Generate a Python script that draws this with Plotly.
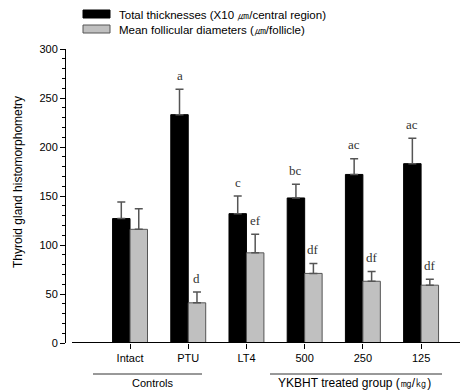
import plotly.graph_objects as go

categories = ["Intact", "PTU", "LT4", "500", "250", "125"]
thick = [127, 233, 132, 148, 172, 183]
thick_err = [17, 26, 18, 14, 16, 26]
foll = [116, 41, 92, 71, 63, 59]
foll_err = [21, 11, 19, 10, 10, 6]
thick_lbl = ["", "a", "c", "bc", "ac", "ac"]
foll_lbl = ["", "d", "ef", "df", "df", "df"]
legend_names = ["Total thicknesses (X10 \u339b/central region)",
                "Mean follicular diameters (\u339b/follicle)"]
group_names = ["Controls", "YKBHT treated group (\u338e/\u338f)"]
y_title = "Thyroid gland histomorphometry"

OFF = 8  # page body margin
W, H = 468 - OFF, 390 - OFF
L, R, T, B = 66 - OFF, 5, 49 - OFF, 47
pw, ph = W - L - R, H - T - B

def px(x):
    return (x - OFF - L) / pw

def py(y):
    return (H - B - (y - OFF)) / ph

xs = list(range(len(categories)))
fig = go.Figure()
fig.add_trace(go.Bar(x=xs, y=thick, width=0.3, offset=-0.3, name=legend_names[0],
                     marker=dict(color="black", line=dict(color="black", width=1)),
                     error_y=dict(type="data", array=thick_err, arrayminus=[0]*6, symmetric=False,
                                  color="#555555", thickness=1.5, width=4),
                     showlegend=False))
fig.add_trace(go.Bar(x=xs, y=foll, width=0.3, offset=0, name=legend_names[1],
                     marker=dict(color="#c0c0c0", line=dict(color="#555555", width=1)),
                     error_y=dict(type="data", array=foll_err, arrayminus=[0]*6, symmetric=False,
                                  color="#555555", thickness=1.5, width=4),
                     showlegend=False))

ann = []
for i in xs:
    if thick_lbl[i]:
        ann.append(dict(x=i - 0.15, y=thick[i] + thick_err[i], text=thick_lbl[i], showarrow=False,
                        yshift=14, font=dict(family="Liberation Serif", size=13, color="#333")))
    if foll_lbl[i]:
        ann.append(dict(x=i + 0.15, y=foll[i] + foll_err[i], text=foll_lbl[i], showarrow=False,
                        yshift=14, font=dict(family="Liberation Serif", size=13, color="#333")))

shapes = []
shapes.append(dict(type="line", xref="paper", yref="paper", x0=px(72), x1=px(463), y0=py(342.5), y1=py(342.5),
                   line=dict(color="black", width=1)))
shapes.append(dict(type="rect", xref="paper", yref="paper", x0=px(83), x1=px(110), y0=py(10), y1=py(18),
                   fillcolor="black", line=dict(color="black", width=1)))
shapes.append(dict(type="rect", xref="paper", yref="paper", x0=px(83), x1=px(110), y0=py(25), y1=py(33),
                   fillcolor="#c0c0c0", line=dict(color="#555555", width=1)))
ann.append(dict(xref="paper", yref="paper", x=px(117), y=py(15), xanchor="left", yanchor="middle",
                text=legend_names[0], showarrow=False, font=dict(family="Liberation Sans", size=11.5, color="black")))
ann.append(dict(xref="paper", yref="paper", x=px(117), y=py(30), xanchor="left", yanchor="middle",
                text=legend_names[1], showarrow=False, font=dict(family="Liberation Sans", size=11.5, color="black")))
shapes.append(dict(type="line", xref="paper", yref="paper", x0=px(93), x1=px(202), y0=py(374), y1=py(374),
                   line=dict(color="#333", width=1)))
shapes.append(dict(type="line", xref="paper", yref="paper", x0=px(270), x1=px(442), y0=py(374), y1=py(374),
                   line=dict(color="#333", width=1)))
ann.append(dict(xref="paper", yref="paper", x=px(152), y=py(383), xanchor="center", yanchor="middle",
                text=group_names[0], showarrow=False, font=dict(family="Liberation Sans", size=11, color="black")))
ann.append(dict(xref="paper", yref="paper", x=px(354), y=py(383), xanchor="center", yanchor="middle",
                text=group_names[1], showarrow=False, font=dict(family="Liberation Sans", size=12, color="black")))
ann.append(dict(xref="paper", yref="paper", x=px(18), y=py(182), xanchor="center", yanchor="middle",
                text=y_title, textangle=-90, showarrow=False,
                font=dict(family="Liberation Sans", size=12, color="black")))

fig.update_layout(
    width=W, height=H, margin=dict(l=L, r=R, t=T, b=B),
    plot_bgcolor="white", paper_bgcolor="white",
    shapes=shapes, annotations=ann,
    font=dict(family="Liberation Sans", size=11, color="black"),
    xaxis=dict(range=[-1.1, 5.72], tickmode="array", tickvals=xs, ticktext=categories,
               showline=False, showgrid=False, zeroline=False, ticks="outside", ticklen=5,
               tickcolor="black", tickfont=dict(size=11)),
    yaxis=dict(range=[0, 300], dtick=50, showline=True, linecolor="black", linewidth=1,
               ticks="outside", ticklen=5, tickcolor="black", showgrid=False, zeroline=False,
               minor=dict(dtick=10, ticks="outside", ticklen=3, tickcolor="black"),
               tickfont=dict(size=11)),
)
fig.write_html("out.html")
